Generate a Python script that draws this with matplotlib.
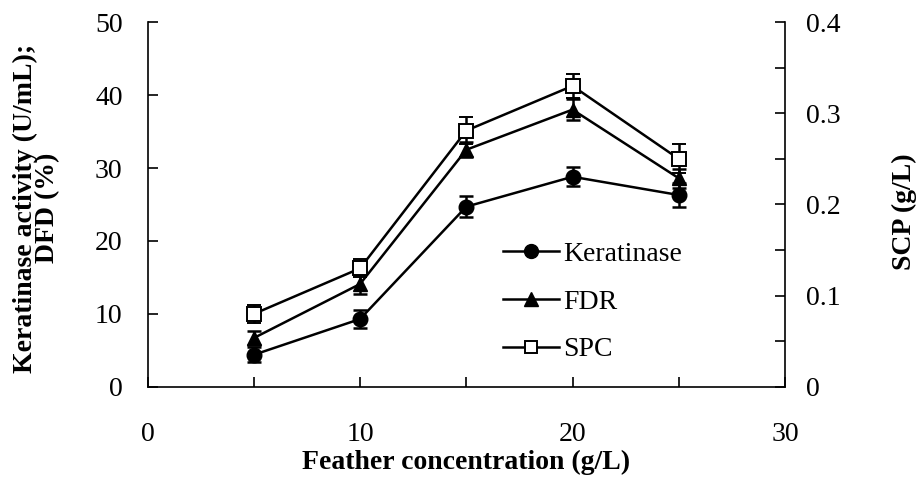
import matplotlib
matplotlib.use("Agg")
import matplotlib.pyplot as plt
from matplotlib.ticker import MultipleLocator
from matplotlib.lines import Line2D

conc = [5, 10, 15, 20, 25]
keratinase = [4.4, 9.3, 24.7, 28.8, 26.3]
keratinase_err = [1.0, 1.2, 1.4, 1.3, 1.7]
fdr = [6.7, 14.1, 32.5, 38.0, 28.6]
fdr_err = [1.0, 1.4, 1.0, 1.4, 1.3]
spc = [0.080, 0.130, 0.281, 0.330, 0.250]
spc_err = [0.010, 0.010, 0.015, 0.013, 0.016]

FS = 20
plt.rcParams['font.family'] = ['Liberation Serif', 'DejaVu Serif']
fig = plt.figure(figsize=(9.17, 4.8), dpi=100)
ax = fig.add_axes([0.161, 0.194, 0.695, 0.760])
ax2 = ax.twinx()

kw = dict(color='black', lw=1.8, capsize=5, elinewidth=1.8, capthick=1.8)
ax.errorbar(conc, keratinase, yerr=keratinase_err, marker='o', ms=10.5,
            mfc='black', mec='black', **kw)
ax.errorbar(conc, fdr, yerr=fdr_err, marker='^', ms=10.5,
            mfc='black', mec='black', **kw)
ax2.errorbar(conc, spc, yerr=spc_err, marker='s', ms=10,
             mfc='white', mec='black', mew=1.4, **kw)

ax.set_xlim(0, 30)
ax.set_ylim(0, 50)
ax2.set_ylim(0, 0.4)
ax.xaxis.set_major_locator(MultipleLocator(10))
ax.xaxis.set_minor_locator(MultipleLocator(5))
ax.yaxis.set_major_locator(MultipleLocator(10))
ax2.yaxis.set_major_locator(MultipleLocator(0.1))
ax2.yaxis.set_minor_locator(MultipleLocator(0.05))

for a in (ax, ax2):
    a.spines['top'].set_visible(False)
    for s in a.spines.values():
        s.set_linewidth(1.2)
ax.spines['right'].set_visible(False)
ax2.spines['left'].set_visible(False)
ax2.spines['bottom'].set_visible(False)

ax.tick_params(axis='x', which='both', direction='in', length=7, width=1.2,
               labelsize=FS, pad=25)
ax.tick_params(axis='y', which='both', direction='in', length=7, width=1.2,
               labelsize=FS, pad=18)
ax2.tick_params(axis='y', which='both', direction='in', length=7, width=1.2,
                labelsize=FS, pad=15)
ax2.set_yticks([0, 0.1, 0.2, 0.3, 0.4])
ax2.set_yticklabels(['0', '0.1', '0.2', '0.3', '0.4'])

ax.set_xlabel('Feather concentration (g/L)', fontsize=FS, fontweight='bold',
              va='center')
ax.xaxis.set_label_coords(0.5, -0.208)
ax.set_ylabel('Keratinase activity (U/mL);\nDFD (%)', fontsize=FS,
              fontweight='bold', linespacing=0.85, va='center', ha='center')
ax.yaxis.set_label_coords(-0.174, 0.49)
ax2.set_ylabel('SCP (g/L)', fontsize=FS, fontweight='bold',
               va='center', ha='center')
ax2.yaxis.set_label_coords(1.188, 0.48)

handles = [
    Line2D([], [], color='black', lw=1.8, marker='o', ms=10, mfc='black'),
    Line2D([], [], color='black', lw=1.8, marker='^', ms=10, mfc='black'),
    Line2D([], [], color='black', lw=1.8, marker='s', ms=9, mfc='white',
           mew=1.4),
]
labels = ['Keratinase', 'FDR', 'SPC']
ax.legend(handles, labels, loc='upper left', bbox_to_anchor=(0.558, 0.398),
          frameon=False, fontsize=FS, handlelength=2.0, handletextpad=0.15,
          labelspacing=0.8, borderpad=0, borderaxespad=0)

fig.savefig('out.png', dpi=100)
